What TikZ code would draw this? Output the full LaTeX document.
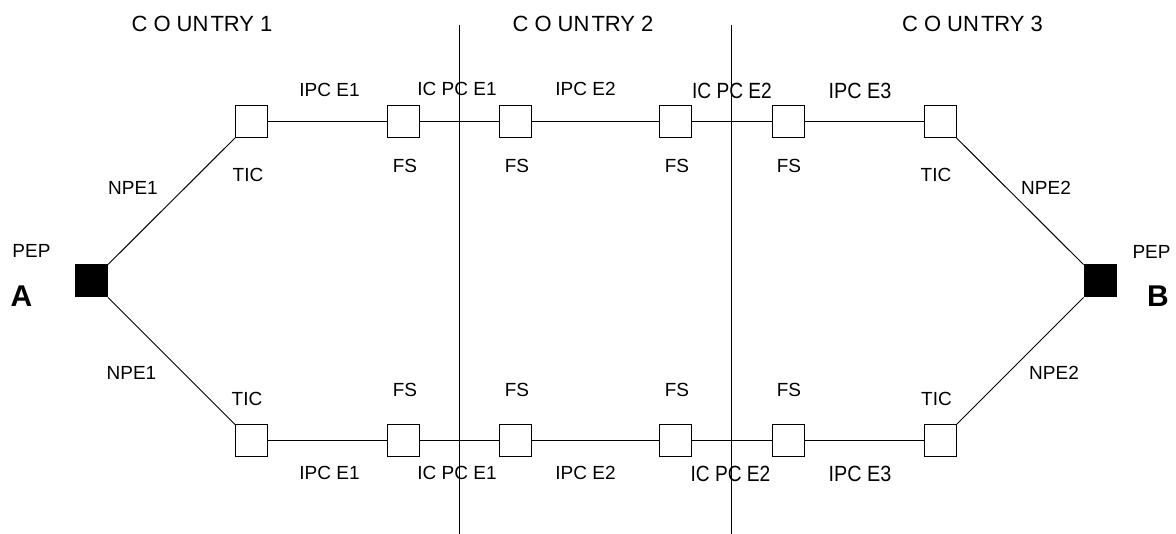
\documentclass[tikz,border=0pt]{standalone}
\usepackage{fontspec}
\setmainfont{Liberation Sans}
\begin{document}
\begin{tikzpicture}[x=1pt,y=-1pt,
  box/.style={draw, line width=1pt, minimum size=32pt, inner sep=0pt, fill=white},
  pep/.style={draw, fill=black, line width=1pt, minimum size=32pt, inner sep=0pt},
  lbl/.style={inner sep=0pt, font=\fontsize{19}{19}\selectfont},
  big/.style={inner sep=0pt, font=\fontsize{22}{22}\selectfont},
  ctry/.style={inner sep=0pt, font=\fontsize{22}{22}\selectfont},
  wire/.style={line width=1pt},
  border/.style={line width=1pt}]
\useasboundingbox (0,0) rectangle (1176,534);
% end points
\node[pep] (A) at (91.5,281) {};
\node[pep] (B) at (1100,281) {};
% borders
\coordinate (v1t) at (459,25);
\coordinate (v1b) at (459,534);
\coordinate (v2t) at (731.5,25);
\coordinate (v2b) at (731.5,534);
\draw[border] (v1t) -- (v1b);
\draw[border] (v2t) -- (v2b);
% upper row
\node[box] (ut1) at (251.5,121.5) {};
\node[box] (uf1) at (403,121.5) {};
\node[box] (uf2) at (515.5,121.5) {};
\node[box] (uf3) at (675.5,121.5) {};
\node[box] (uf4) at (788,121.5) {};
\node[box] (ut2) at (940,121.5) {};
% lower row
\node[box] (lt1) at (251.5,441) {};
\node[box] (lf1) at (403,441) {};
\node[box] (lf2) at (515.5,441) {};
\node[box] (lf3) at (675.5,441) {};
\node[box] (lf4) at (788,441) {};
\node[box] (lt2) at (940,441) {};
% connectors
\draw[wire] (ut1) -- (uf1) -- (uf2) -- (uf3) -- (uf4) -- (ut2);
\draw[wire] (lt1) -- (lf1) -- (lf2) -- (lf3) -- (lf4) -- (lt2);
\draw[wire] (A.north east) -- (ut1.south west);
\draw[wire] (A.south east) -- (lt1.north west);
\draw[wire] (B.north west) -- (ut2.south east);
\draw[wire] (B.south west) -- (lt2.north east);
% country labels
\node[ctry] (c1) at (202,23.5) {C O UN\kern2pt TRY\ 1};
\node[ctry] (c2) at (583,23.5) {C O UN\kern2pt TRY\ 2};
\node[ctry] (c3) at (972.5,23.5) {C O UN\kern2pt TRY\ 3};
% PEP labels
\node[lbl] (pepa) at (31.5,251) {PEP};
\node[inner sep=0pt, font=\fontsize{30}{30}\selectfont\bfseries] (la) at (21.5,296) {A};
\node[lbl] (pepb) at (1151.5,252) {PEP};
\node[inner sep=0pt, font=\fontsize{30}{30}\selectfont\bfseries] (lb) at (1158,296) {B};
% upper labels
\node[lbl] (u1) at (329.5,89.5) {IPC E1};
\node[lbl] (u2) at (457,89) {IC PC E1};
\node[lbl] (u3) at (585.5,89) {IPC E2};
\node[big] (u4) at (732,91) {\scalebox{0.87}[1]{IC PC E2}};
\node[big] (u5) at (860,91) {\scalebox{0.9}[1]{IPC E3}};
\node[lbl] (ufs1) at (405,166) {FS};
\node[lbl] (ufs2) at (517,166) {FS};
\node[lbl] (ufs3) at (677,166) {FS};
\node[lbl] (ufs4) at (789,166) {FS};
\node[lbl] (utic1) at (248,175) {TIC};
\node[lbl] (utic2) at (936,175) {TIC};
\node[lbl] (unpe1) at (133,187.5) {NPE1};
\node[lbl] (unpe2) at (1046,187.5) {NPE2};
% lower labels
\node[lbl] (lnpe1) at (131.5,373) {NPE1};
\node[lbl] (lnpe2) at (1054,373) {NPE2};
\node[lbl] (ltic1) at (247,398.5) {TIC};
\node[lbl] (ltic2) at (936.5,398.5) {TIC};
\node[lbl] (lfs1) at (405,390) {FS};
\node[lbl] (lfs2) at (517,390) {FS};
\node[lbl] (lfs3) at (677,390) {FS};
\node[lbl] (lfs4) at (789,390) {FS};
\node[lbl] (l1) at (329.5,473) {IPC E1};
\node[lbl] (l2) at (457,473) {IC PC E1};
\node[lbl] (l3) at (585.5,473) {IPC E2};
\node[big] (l4) at (730.5,474) {\scalebox{0.87}[1]{IC PC E2}};
\node[big] (l5) at (860,474) {\scalebox{0.9}[1]{IPC E3}};
\end{tikzpicture}
\end{document}
